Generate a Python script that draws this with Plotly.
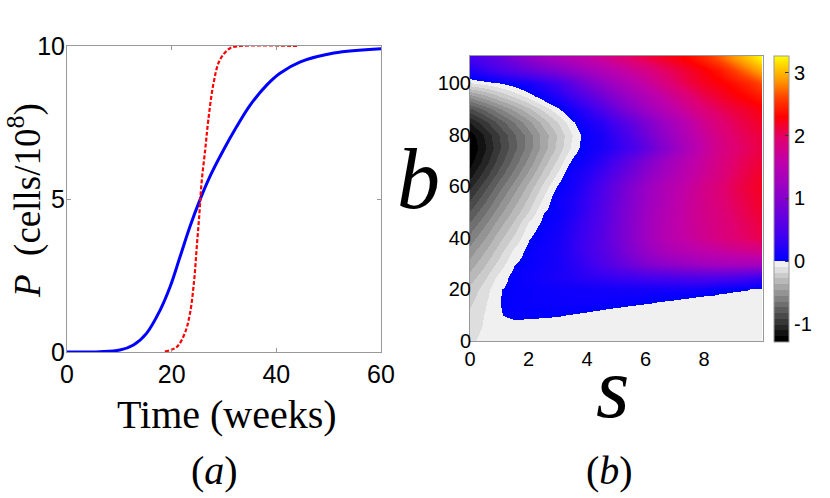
import plotly.graph_objects as go

# ---- panel (a): tumour growth curves ----
t_blue = [0, 6.3, 10.1, 12.7, 15.2, 17.8, 19.7, 21.6, 23.5, 25.4, 27.3, 29.9, 32.4, 35.0, 38.2, 40.7, 44.6, 51, 60]
p_blue = [0, 0.01, 0.065, 0.23, 0.61, 1.37, 2.13, 3.11, 4.1, 4.97, 5.73, 6.6, 7.36, 8.07, 8.73, 9.11, 9.48, 9.77, 9.91]

t_red = [18.7, 21.0, 22.5, 23.5, 24.3, 24.8, 25.3, 25.7, 26.4, 27.0, 28.0, 29.2, 31.1, 33.1, 44]
p_red = [0.01, 0.17, 0.61, 1.26, 2.35, 3.44, 4.53, 5.51, 6.6, 7.58, 8.78, 9.54, 9.92, 10.0, 10.0]

# ---- panel (b): map over (s, b) on a coarse grid ----
s_vals = [0, 0.5, 1, 1.5, 2, 2.5, 3, 3.5, 4, 4.5, 5, 5.5, 6, 6.5, 7, 7.5, 8, 8.5, 9, 9.5, 10]
b_vals = [0, 5, 10, 15, 20, 25, 30, 35, 40, 45, 50, 55, 60, 65, 70, 75, 80, 85, 90, 95, 100, 105, 110]
z_map = [
    [-0.11, -0.06, -0.05, -0.05, -0.05, -0.05, -0.05, -0.05, -0.05, -0.05, -0.05, -0.05, -0.05, -0.05, -0.05, -0.05, -0.05, -0.05, -0.05, -0.05, -0.05],
    [-0.13, -0.08, -0.05, -0.05, -0.05, -0.05, -0.05, -0.05, -0.05, -0.05, -0.05, -0.05, -0.05, -0.05, -0.05, -0.05, -0.05, -0.05, -0.05, -0.05, -0.05],
    [-0.16, -0.085, -0.008, 0.026, 0.02, 0.0125, 0.0063, -0.0055, -0.0247, -0.048, -0.08, -0.08, -0.08, -0.05, -0.05, -0.05, -0.05, -0.05, -0.05, -0.05, -0.05],
    [-0.2, -0.104, -0.0035, 0.04, 0.05, 0.06, 0.07, 0.08, 0.08, 0.07, 0.058, 0.029, 0.011, -0.0032, -0.0266, -0.055, -0.088, -0.05, -0.05, -0.05, -0.05],
    [-0.25, -0.136, -0.0075, 0.03, 0.05, 0.065, 0.08, 0.09, 0.1, 0.11, 0.12, 0.125, 0.13, 0.13, 0.13, 0.12, 0.1, 0.031, 0.0146, 0.004, -0.03],
    [-0.33, -0.2, -0.06, 0.04, 0.08, 0.12, 0.16, 0.21, 0.26, 0.31, 0.36, 0.4, 0.44, 0.47, 0.5, 0.52, 0.54, 0.53, 0.5, 0.44, 0.36],
    [-0.42, -0.285, -0.149, -0.0056, 0.05, 0.09, 0.14, 0.24, 0.36, 0.5, 0.64, 0.8, 0.95, 1.05, 1.13, 1.2, 1.26, 1.3, 1.33, 1.33, 1.32],
    [-0.51, -0.368, -0.227, -0.07, 0.04, 0.09, 0.15, 0.27, 0.42, 0.58, 0.76, 0.96, 1.15, 1.3, 1.42, 1.5, 1.57, 1.64, 1.7, 1.76, 1.82],
    [-0.61, -0.461, -0.312, -0.164, -0.0056, 0.06, 0.13, 0.27, 0.42, 0.6, 0.8, 1.02, 1.24, 1.42, 1.56, 1.66, 1.76, 1.85, 1.93, 2.0, 2.07],
    [-0.71, -0.556, -0.401, -0.247, -0.06, 0.03, 0.1, 0.24, 0.4, 0.58, 0.8, 1.02, 1.24, 1.42, 1.57, 1.68, 1.78, 1.87, 1.95, 2.03, 2.11],
    [-0.82, -0.659, -0.498, -0.338, -0.177, -0.0056, 0.06, 0.18, 0.36, 0.56, 0.79, 1.01, 1.23, 1.4, 1.56, 1.69, 1.8, 1.89, 1.98, 2.07, 2.16],
    [-0.93, -0.761, -0.592, -0.423, -0.254, -0.085, 0.085, 0.17, 0.33, 0.53, 0.76, 0.98, 1.2, 1.37, 1.54, 1.68, 1.8, 1.91, 2.01, 2.1, 2.19],
    [-1.04, -0.864, -0.689, -0.513, -0.337, -0.162, 0.014, 0.11, 0.29, 0.5, 0.73, 0.96, 1.18, 1.36, 1.52, 1.66, 1.8, 1.92, 2.03, 2.12, 2.21],
    [-1.15, -0.97, -0.791, -0.611, -0.431, -0.252, -0.072, 0.108, 0.21, 0.39, 0.6, 0.83, 1.05, 1.24, 1.42, 1.58, 1.73, 1.86, 1.99, 2.09, 2.19],
    [-1.24, -1.06, -0.881, -0.701, -0.521, -0.341, -0.162, 0.018, 0.12, 0.27, 0.47, 0.7, 0.93, 1.14, 1.35, 1.53, 1.7, 1.84, 1.96, 2.06, 2.14],
    [-1.29, -1.116, -0.941, -0.767, -0.593, -0.418, -0.244, -0.0697, 0.08, 0.15, 0.28, 0.44, 0.68, 0.93, 1.17, 1.41, 1.64, 1.81, 1.93, 2.02, 2.1],
    [-1.25, -1.085, -0.92, -0.755, -0.59, -0.425, -0.261, -0.0957, 0.07, 0.16, 0.33, 0.53, 0.8, 1.04, 1.27, 1.48, 1.69, 1.85, 1.97, 2.05, 2.12],
    [-1.1, -0.946, -0.792, -0.638, -0.484, -0.33, -0.176, -0.0216, 0.14, 0.26, 0.46, 0.68, 0.93, 1.15, 1.36, 1.57, 1.78, 1.92, 2.02, 2.11, 2.2],
    [-0.85, -0.712, -0.573, -0.435, -0.296, -0.158, -0.0194, 0.13, 0.3, 0.52, 0.77, 1.0, 1.22, 1.41, 1.6, 1.77, 1.92, 2.02, 2.11, 2.18, 2.27],
    [-0.5, -0.388, -0.276, -0.164, -0.0516, 0.07, 0.2, 0.38, 0.59, 0.81, 1.03, 1.23, 1.42, 1.6, 1.78, 1.92, 2.06, 2.16, 2.25, 2.33, 2.45],
    [-0.1, -0.0515, -0.003, 0.06, 0.14, 0.27, 0.43, 0.65, 0.9, 1.1, 1.29, 1.47, 1.65, 1.82, 1.97, 2.09, 2.2, 2.27, 2.36, 2.48, 2.65],
    [0.2, 0.33, 0.47, 0.6, 0.72, 0.85, 0.98, 1.12, 1.28, 1.42, 1.57, 1.71, 1.84, 1.96, 2.07, 2.17, 2.27, 2.4, 2.58, 2.78, 2.98],
    [0.45, 0.57, 0.7, 0.9, 1.08, 1.22, 1.35, 1.47, 1.6, 1.72, 1.85, 1.97, 2.07, 2.16, 2.25, 2.33, 2.48, 2.66, 2.86, 3.06, 3.27],
]

cbar_ticks = [-1, 0, 1, 2, 3]
cbar_labels = ["-1", "0", "1", "2", "3"]

ZMIN, ZMAX = -1.29, 3.27
W, H = 830, 498


def tz(z):
    return (z - ZMIN) / (ZMAX - ZMIN)


# banded greys below zero, blue->magenta->red->yellow above
n_gray = 14
cscale = []
for i in range(n_gray):
    g = round(240 * i / (n_gray - 1))
    col = f"rgb({g},{g},{g})"
    lo = 0.0 if i == 0 else tz(ZMIN + i * (-ZMIN) / n_gray)
    hi = tz(0) if i == n_gray - 1 else tz(ZMIN + (i + 1) * (-ZMIN) / n_gray)
    cscale.append([lo, col])
    cscale.append([hi, col])
warm = [(0, "#0000ff"), (0.4, "#4000f0"), (0.95, "#8000d0"), (1.25, "#a000c0"),
        (1.6, "#c000a8"), (1.95, "#e00070"), (2.3, "#ff0000"), (2.6, "#ff4000"),
        (2.85, "#ff9000"), (3.1, "#ffd000"), (ZMAX, "#ffff00")]
for zv, col in warm:
    cscale.append([1.0 if zv == ZMAX else tz(zv), col])


def px_x(p):
    return p / W


def px_y(p):
    return 1 - p / H


fig = go.Figure()

fig.add_trace(go.Scatter(x=t_blue, y=p_blue, mode="lines", line_shape="spline",
                         line=dict(color="#0000ff", width=3), xaxis="x", yaxis="y",
                         showlegend=False))
fig.add_trace(go.Scatter(x=t_red, y=p_red, mode="lines", line_shape="spline",
                         line=dict(color="#ff0000", width=2.2, dash="4px,2px"),
                         xaxis="x", yaxis="y", showlegend=False))

fig.add_trace(go.Heatmap(
    x=s_vals, y=b_vals, z=z_map, zmin=ZMIN, zmax=ZMAX, zsmooth="best",
    colorscale=cscale, xaxis="x2", yaxis="y2",
    colorbar=dict(x=px_x(774), xanchor="left", xpad=0, ypad=0,
                  thickness=15, thicknessmode="pixels",
                  y=px_y(199), yanchor="middle", len=286 / H, lenmode="fraction",
                  outlinecolor="#999999", outlinewidth=1,
                  tickvals=cbar_ticks, ticktext=cbar_labels, ticks="inside", ticklen=4,
                  tickcolor="#333333",
                  tickfont=dict(family="Liberation Sans", size=20, color="black")),
))

tick_font_a = dict(family="Liberation Sans", size=25, color="black")
tick_font_b = dict(family="Liberation Sans", size=20, color="black")
frame = dict(showline=True, linecolor="#999999", linewidth=1, mirror="ticks",
             showgrid=False, zeroline=False, automargin=False)

fig.update_layout(
    width=W, height=H, margin=dict(l=0, r=0, t=0, b=0),
    paper_bgcolor="white", plot_bgcolor="white",
    xaxis=dict(domain=[px_x(67), px_x(381)], range=[0, 60], tickvals=[0, 20, 40, 60],
               ticks="inside", ticklen=4, tickcolor="#999999", tickfont=tick_font_a,
               anchor="y", **frame),
    yaxis=dict(domain=[px_y(352), px_y(46)], range=[0, 10], tickvals=[0, 5, 10],
               ticks="inside", ticklen=4, tickcolor="#999999", tickfont=tick_font_a,
               ticklabelstandoff=-4, anchor="x", **frame),
    xaxis2=dict(domain=[px_x(470), px_x(762.5)], range=[0, 10], tickvals=[0, 2, 4, 6, 8],
                ticks="", ticklen=0, tickfont=tick_font_b, anchor="y2", **frame),
    yaxis2=dict(domain=[px_y(341), px_y(56)], range=[0, 110.6],
                tickvals=[0, 20, 40, 60, 80, 100], ticks="", ticklen=0,
                ticklabelstandoff=-6, tickfont=tick_font_b, anchor="x2", **frame),
)

serif = "Liberation Serif"
labels = [
    ("<i>P</i>  (cells/10<sup>8</sup>)", 25, 201, 37, -90),
    ("Time (weeks)", 227, 414, 40, 0),
    ("(<i>a</i>)", 214, 470, 40, 0),
    ("(<i>b</i>)", 609, 470, 40, 0),
    ("<i>b</i>", 418, 179, 86, 0),
    ("<i>s</i>", 612, 388, 86, 0),
]
for txt, x, y, size, ang in labels:
    fig.add_annotation(text=txt, x=px_x(x), y=px_y(y), xref="paper", yref="paper",
                       xanchor="center", yanchor="middle", showarrow=False,
                       textangle=ang, font=dict(family=serif, size=size, color="black"))

# the page's default 8px body margin would shift the whole figure
fig.write_html("out.html", config={"displayModeBar": False},
               post_script="document.body.style.margin='0px';")
